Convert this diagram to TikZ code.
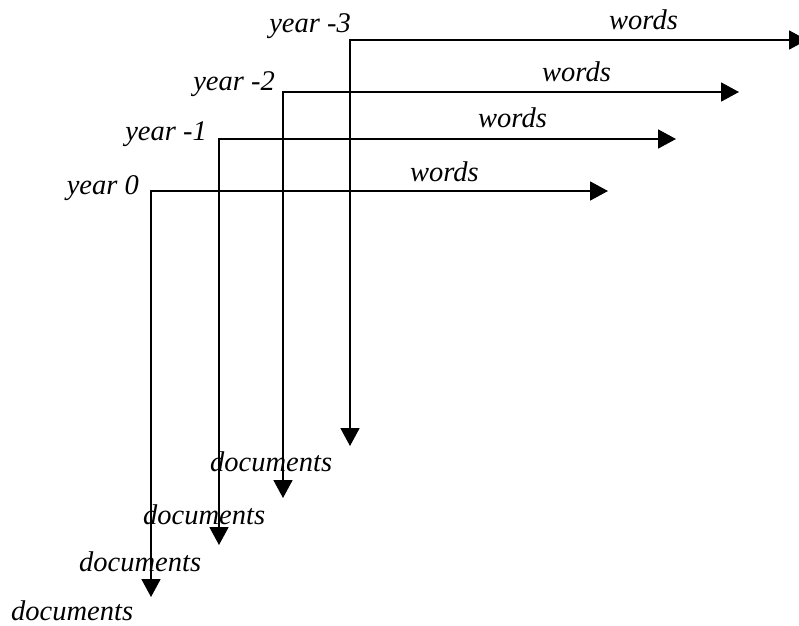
\documentclass[tikz,border=0pt]{standalone}
\usepackage{fontspec}
\setmainfont{Liberation Serif}
\usetikzlibrary{arrows.meta}

\begin{document}
\begin{tikzpicture}[x=1pt,y=-1pt,
    lbl/.style={font=\fontsize{28.5}{30}\selectfont\itshape, inner sep=0pt},
    axis/.style={line width=1.8pt,
      {Triangle[length=18pt,width=19pt]}-{Triangle[length=18pt,width=19pt]}}]
  \clip (0,0) rectangle (799,625);

  % Corners and arrow ends
  \coordinate (c0) at (151,191);
  \coordinate (w0) at (608,191);
  \coordinate (d0) at (151,597);
  \coordinate (c1) at (219,139);
  \coordinate (w1) at (676,139);
  \coordinate (d1) at (219,545);
  \coordinate (c2) at (283,92);
  \coordinate (w2) at (739,92);
  \coordinate (d2) at (283,498);
  \coordinate (c3) at (350,40);
  \coordinate (w3) at (807,40);
  \coordinate (d3) at (350,446);

  % Draw axes
  \draw[axis] (d0) -- (c0) -- (w0);
  \draw[axis] (d1) -- (c1) -- (w1);
  \draw[axis] (d2) -- (c2) -- (w2);
  \draw[axis] (d3) -- (c3) -- (w3);

  % Year labels
  \node[lbl, anchor=east] (y0) at (139,188) {year 0};
  \node[lbl, anchor=east] (y1) at (207,134) {year -1};
  \node[lbl, anchor=east] (y2) at (275,84) {year -2};
  \node[lbl, anchor=east] (y3) at (351,26) {year -3};

  % Words labels
  \node[lbl, anchor=west] (wl0) at (410,172) {words};
  \node[lbl, anchor=west] (wl1) at (478,118) {words};
  \node[lbl, anchor=west] (wl2) at (542,72) {words};
  \node[lbl, anchor=west] (wl3) at (609,20) {words};

  % Documents labels
  \node[lbl, anchor=west] (dl0) at (11,611) {documents};
  \node[lbl, anchor=west] (dl1) at (79,562) {documents};
  \node[lbl, anchor=west] (dl2) at (143,515) {documents};
  \node[lbl, anchor=west] (dl3) at (210,462) {documents};
\end{tikzpicture}
\end{document}
